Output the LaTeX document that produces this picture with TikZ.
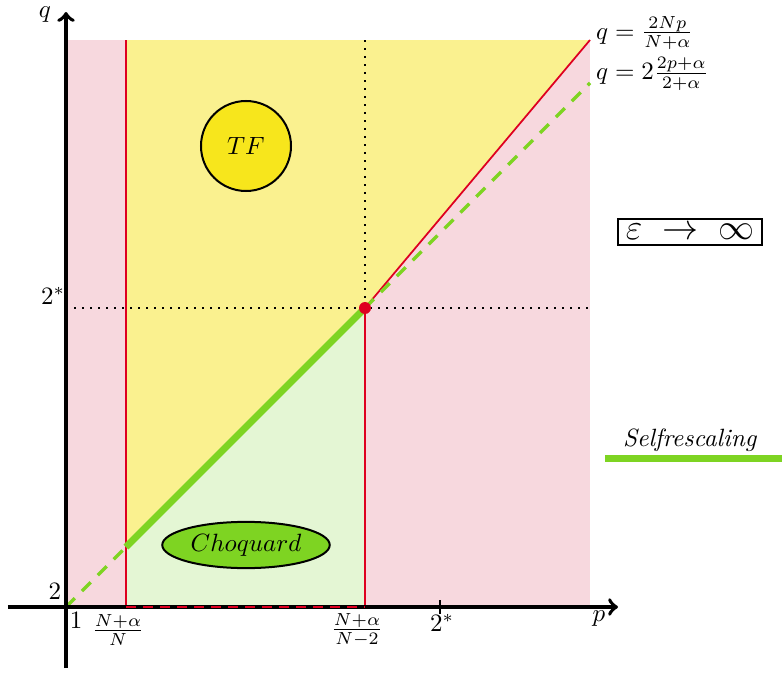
\documentclass[tikz,border=0pt]{standalone}
\usepackage{amsmath,amssymb}
\usetikzlibrary{shapes.geometric}
\definecolor{pinkr}{RGB}{247,216,222}
\definecolor{yelr}{RGB}{250,241,143}
\definecolor{grnr}{RGB}{228,246,212}
\definecolor{tfy}{RGB}{247,230,28}
\definecolor{chg}{RGB}{126,212,34}
\definecolor{redl}{RGB}{222,0,32}
\tikzset{
  ax/.style={line width=1.5pt,->},
  redln/.style={draw=redl,line width=0.7pt},
  dots/.style={line width=0.8pt,dash pattern=on 0.8pt off 2.4pt},
  grdash/.style={draw=chg,line width=1.3pt,dash pattern=on 5pt off 4pt},
  grthick/.style={draw=chg,line width=2.8pt},
  lbl/.style={inner sep=1pt}
}
\begin{document}
\begin{tikzpicture}[x=0.4pt,y=-0.4pt]
\useasboundingbox (0,0) rectangle (782,673);
\coordinate (o) at (66,607);
\coordinate (a) at (126,607);
\coordinate (a1) at (126,547);
\coordinate (a2) at (126,40);
\coordinate (b) at (365,607);
\coordinate (b2) at (365,40);
\coordinate (s) at (365,308);
\coordinate (c) at (590,40);
\coordinate (c1) at (590,83);
\coordinate (y1) at (66,308);
\coordinate (y2) at (590,308);
\fill[pinkr] (66,40) rectangle (590,607);
\fill[yelr] (a2) -- (a1) -- (s) -- (c) -- cycle;
\fill[grnr] (a) -- (a1) -- (s) -- (b) -- cycle;
\draw[dots] (b2) -- (s);
\draw[dots] (y1) -- (y2);
\draw[redln] (a2) -- (a);
\draw[redln] (s) -- (b);
\draw[redln] (s) -- (c);
\draw[grdash] (o) -- (a1);
\draw[grdash] (s) -- (c1);
\draw[grthick] (a1) -- (s);
% axes
\coordinate (xl) at (8,607);
\coordinate (xr) at (618,607);
\coordinate (yb) at (66,668);
\coordinate (yt) at (66,12);
\draw[ax] (xl) -- (xr);
\draw[ax] (yb) -- (yt);
\draw[line width=0.8pt] (440,600) -- (440,614);
\draw[redln,line width=0.9pt,dash pattern=on 4pt off 2.8pt] (a) -- (b);
\fill[redl] (s) circle (2.4pt);
% regions
\node[circle,draw,thick,fill=tfy,minimum size=36pt] (tf) at (246,146) {$TF$};
\node[ellipse,draw,thick,fill=chg,inner sep=0pt,minimum width=67pt,minimum height=18.5pt] (ch) at (246,545) {$Choquard$};
% labels
\node[lbl] (lq) at (45,15) {$q$};
\node[lbl] (lp) at (599,619) {$p$};
\node[lbl] (l1) at (76,620) {$1$};
\node[lbl] (l2) at (55,591) {$2$};
\node[lbl] (l2s) at (53,296) {$2^*$};
\node[lbl] (lf1) at (118,630) {$\frac{N+\alpha}{N}$};
\node[lbl] (lf2) at (357,630) {$\frac{N+\alpha}{N-2}$};
\node[lbl] (lx2s) at (442,623) {$2^*$};
\node[lbl,anchor=west] (eq1) at (593,33) {$q=\frac{2Np}{N+\alpha}$};
\node[lbl,anchor=west] (eq2) at (593,74) {$q=2\frac{2p+\alpha}{2+\alpha}$};
\node[draw,line width=0.9pt,inner xsep=3pt,inner ysep=2pt,font=\Large] (lim) at (690,232) {$\varepsilon\;\to\;\infty$};
\node[lbl] (sr) at (690,440) {\textit{Selfrescaling}};
\coordinate (g1) at (605,458);
\coordinate (g2) at (782,458);
\draw[grthick] (g1) -- (g2);
\end{tikzpicture}
\end{document}
